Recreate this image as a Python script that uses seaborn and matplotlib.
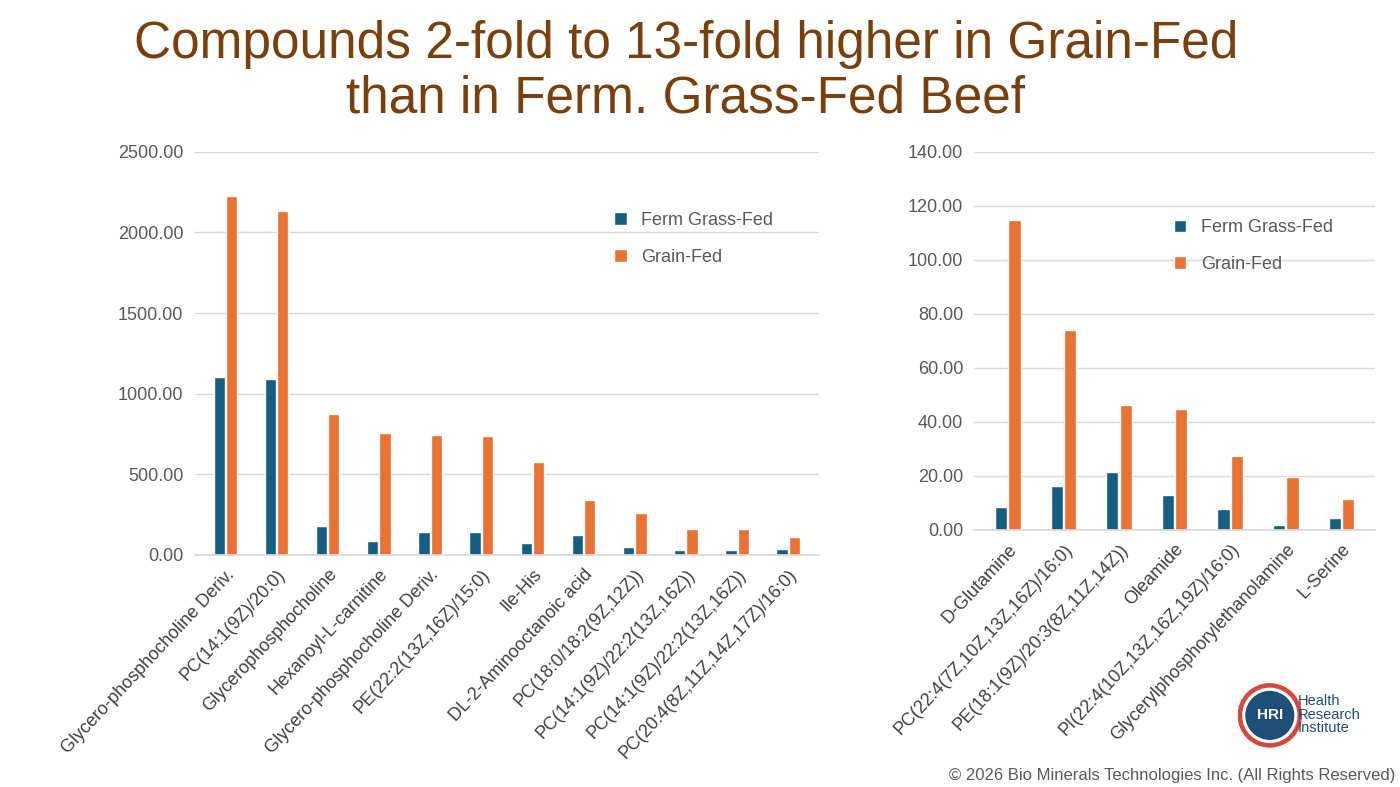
import matplotlib
matplotlib.use("Agg")
import matplotlib.pyplot as plt
import seaborn as sns
import pandas as pd
from matplotlib.patches import Circle

left_cats = ["Glycero-phosphocholine Deriv.", "PC(14:1(9Z)/20:0)", "Glycerophosphocholine",
             "Hexanoyl-L-carnitine", "Glycero-phosphocholine Deriv. ", "PE(22:2(13Z,16Z)/15:0)",
             "Ile-His", "DL-2-Aminooctanoic acid", "PC(18:0/18:2(9Z,12Z))",
             "PC(14:1(9Z)/22:2(13Z,16Z))", "PC(14:1(9Z)/22:2(13Z,16Z)) ", "PC(20:4(8Z,11Z,14Z,17Z)/16:0)"]
left_grass = [1104, 1092, 180, 87, 143, 143, 74, 124, 50, 31, 31, 37]
left_grain = [2227, 2134, 875, 757, 744, 740, 577, 341, 260, 161, 161, 112]

right_cats = ["D-Glutamine", "PC(22:4(7Z,10Z,13Z,16Z)/16:0)", "PE(18:1(9Z)/20:3(8Z,11Z,14Z))",
              "Oleamide", "PI(22:4(10Z,13Z,16Z,19Z)/16:0)", "Glycerylphosphorylethanolamine", "L-Serine"]
right_grass = [8.5, 16.2, 21.5, 13.0, 7.8, 1.8, 4.4]
right_grain = [114.8, 74.0, 46.3, 44.8, 27.4, 19.6, 11.5]

series = ["Ferm Grass-Fed", "Grain-Fed"]
colors = ["#155F82", "#E97132"]
title_color = "#7B3F0C"

sns.set_theme(style="white")
plt.rcParams['font.family'] = ['Liberation Sans', 'DejaVu Sans']

fig = plt.figure(figsize=(14, 7.87), dpi=100)

def make_df(cats, a, b):
    return pd.DataFrame({"cat": cats * 2, "val": a + b,
                         "series": [series[0]] * len(cats) + [series[1]] * len(cats)})

def draw(ax, cats, a, b, ylim, step, legend_loc):
    df = make_df(cats, a, b)
    sns.barplot(data=df, x="cat", y="val", hue="series", palette=colors, ax=ax,
                width=0.48, gap=0.08, order=cats, hue_order=series, saturation=1)
    ax.set_ylim(0, ylim)
    ticks = [i * step for i in range(int(round(ylim / step)) + 1)]
    ax.set_yticks(ticks)
    ax.set_yticklabels([f"{t:.2f}" for t in ticks], fontsize=13, color="#595959")
    ax.set_xticks(range(len(cats)))
    ax.set_xticklabels([c.strip() for c in cats], rotation=47, ha="right",
                       rotation_mode="anchor", fontsize=13, color="#404040")
    ax.set_xlabel(""); ax.set_ylabel("")
    ax.yaxis.grid(True, color="#D9D9D9", lw=1)
    ax.set_axisbelow(True)
    for s in ["top", "right", "left"]:
        ax.spines[s].set_visible(False)
    ax.spines["bottom"].set_color("#D9D9D9")
    ax.tick_params(axis="both", length=0, pad=8)
    ax.set_xlim(-0.6, len(cats) - 0.4)
    leg = ax.legend(loc=legend_loc, frameon=False, fontsize=13, handlelength=0.7,
                    handleheight=0.7, labelspacing=1.1)
    for t in leg.get_texts():
        t.set_color("#595959")

ax1 = fig.add_axes([0.139, 0.295, 0.446, 0.512])
draw(ax1, left_cats, left_grass, left_grain, 2500, 500, (0.66, 0.70))
ax2 = fig.add_axes([0.696, 0.327, 0.286, 0.480])
draw(ax2, right_cats, right_grass, right_grain, 140, 20, (0.48, 0.66))

fig.text(0.49, 0.975, "Compounds 2-fold to 13-fold higher in Grain-Fed\nthan in Ferm. Grass-Fed Beef",
         ha="center", va="top", fontsize=37, color=title_color, linespacing=1.15)

fig.text(0.997, 0.005, "© 2026 Bio Minerals Technologies Inc. (All Rights Reserved)",
         ha="right", va="bottom", fontsize=12, color="#595959")

# logo
lax = fig.add_axes([0.884, 0.05, 0.046, 0.082])
lax.set_aspect("equal"); lax.axis("off")
lax.set_xlim(-1, 1); lax.set_ylim(-1, 1)
lax.add_patch(Circle((0, 0), 0.98, color="#D9473A"))
lax.add_patch(Circle((0, 0), 0.84, color="white"))
lax.add_patch(Circle((0, 0), 0.74, color="#1F4E79"))
lax.text(0, 0, "HRI", ha="center", va="center", color="white", fontsize=11, weight="bold")
fig.text(0.927, 0.092, "Health\nResearch\nInstitute", ha="left", va="center",
         fontsize=10.5, color="#1F4E79", linespacing=0.95)

fig.savefig("out.png", dpi=100)
